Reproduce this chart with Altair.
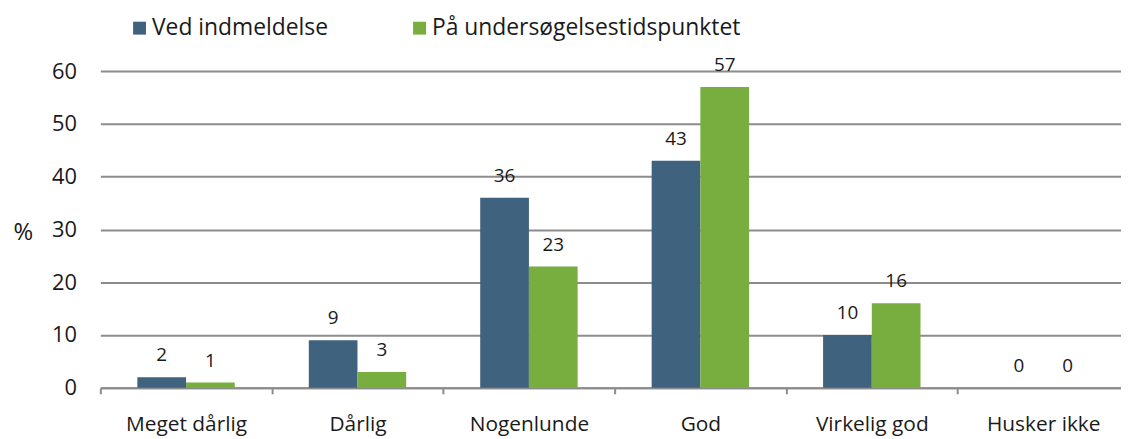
import altair as alt
import pandas as pd

categories = ["Meget dårlig", "Dårlig", "Nogenlunde", "God", "Virkelig god", "Husker ikke"]
series = ["Ved indmeldelse", "På undersøgelsestidspunktet"]
ved_indmeldelse = [2, 9, 36, 43, 10, 0]
paa_tidspunktet = [1, 3, 23, 57, 16, 0]
colors = ["#3F627E", "#78AE40"]
y_ticks = [0, 10, 20, 30, 40, 50, 60]

rows = []
for c, a, b in zip(categories, ved_indmeldelse, paa_tidspunktet):
    rows.append({"kategori": c, "serie": series[0], "pct": a})
    rows.append({"kategori": c, "serie": series[1], "pct": b})
df = pd.DataFrame(rows)

FONT = "Open Sans"
TXT = "#1a1a1a"
GRID = "#8C8C8C"

x = alt.X(
    "kategori:N",
    sort=categories,
    scale=alt.Scale(range=[0, 1036], paddingInner=0, paddingOuter=0),
    axis=alt.Axis(
        title=None, labelAngle=0, labelFontSize=21, labelFont=FONT, labelColor=TXT,
        labelPadding=20, tickBand="extent", ticks=True, tickSize=6, tickColor=GRID,
        tickWidth=2, domainColor=GRID, domainWidth=2, grid=False,
    ),
)
xo = alt.XOffset("serie:N", sort=series, scale=alt.Scale(paddingInner=0, paddingOuter=0.76))
y = alt.Y(
    "pct:Q",
    scale=alt.Scale(domain=[0, 60], nice=False),
    axis=alt.Axis(
        values=y_ticks, title="%", titleAngle=0, titleX=-78, titleY=163,
        titleAlign="center", titleBaseline="middle", titleFontSize=24,
        titleFontWeight="normal", titleFont=FONT, titleColor=TXT,
        domain=False, ticks=False, labelPadding=24, labelFontSize=22,
        labelFont=FONT, labelColor=TXT, grid=True, gridColor=GRID, gridWidth=2,
    ),
)
color = alt.Color(
    "serie:N",
    sort=series,
    scale=alt.Scale(domain=series, range=colors),
    legend=alt.Legend(
        title=None, orient="none", direction="horizontal", legendX=28, legendY=-55,
        symbolType="square", symbolSize=169, symbolStrokeWidth=0, labelFontSize=23,
        labelFont=FONT, labelColor=TXT, labelOffset=1, labelLimit=0,
        columnPadding=80, padding=0,
    ),
)

bars = alt.Chart(df).mark_bar().encode(x=x, xOffset=xo, y=y, color=color)
labels = alt.Chart(df).mark_text(
    dy=-22, baseline="middle", fontSize=19, font=FONT, color=TXT
).encode(x=x, xOffset=xo, y=y, text="pct:Q")

chart = alt.layer(bars, labels).properties(
    width=1028,
    height=319,
    autosize=alt.AutoSizeParams(type="none"),
    padding={"left": 93, "top": 62, "right": 0, "bottom": 52},
).configure_view(stroke=None)

chart.save("out.html", embed_options={"renderer": "svg", "actions": False})
